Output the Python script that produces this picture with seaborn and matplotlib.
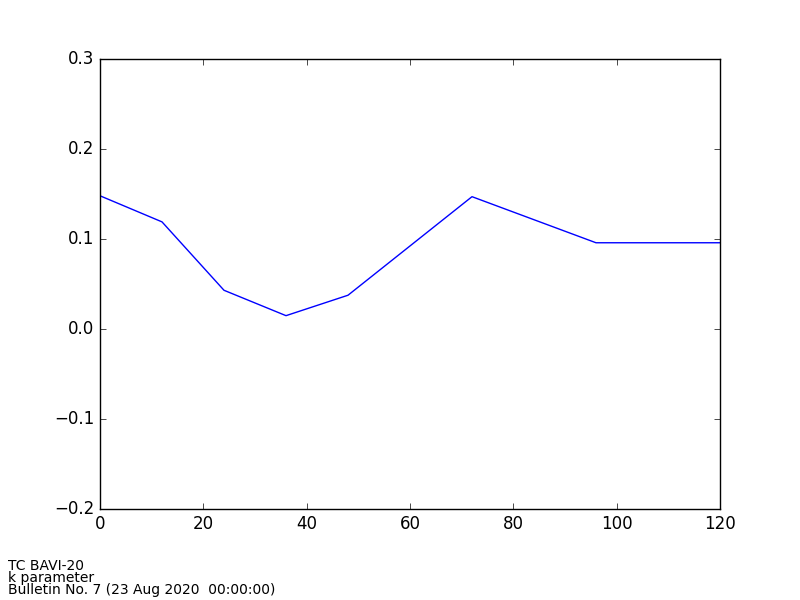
import pandas as pd
import matplotlib
matplotlib.use("Agg")
import matplotlib.pyplot as plt
import seaborn as sns

# forecast hours and k parameter values
hours = [0, 12, 24, 36, 48, 72, 96, 120]
k_values = [0.148, 0.119, 0.043, 0.0148, 0.0375, 0.147, 0.0958, 0.0958]

info_lines = ["TC BAVI-20", "k parameter", "Bulletin No. 7 (23 Aug 2020  00:00:00)"]

df = pd.DataFrame({"hour": hours, "k": k_values})

plt.style.use("classic")
plt.rcParams["font.family"] = ["DejaVu Sans"]

fig = plt.figure(figsize=(8, 6), dpi=100, facecolor="white")
ax = fig.add_axes([0.125, 0.1517, 0.775, 0.75])
sns.lineplot(data=df, x="hour", y="k", color="b", linewidth=1.0, ax=ax)
ax.set_xlim(0, 120)
ax.set_ylim(-0.2, 0.3)
ax.set_xlabel("")
ax.set_ylabel("")

for i, line in enumerate(info_lines):
    fig.text(0.01, 0.05 - i * 0.02, line, fontsize=10, va="baseline", ha="left")

fig.savefig("out.png", dpi=100, facecolor="white")
